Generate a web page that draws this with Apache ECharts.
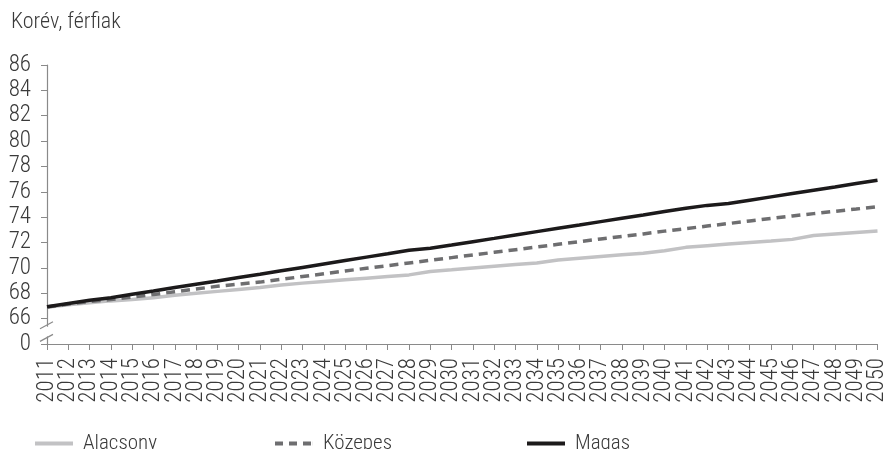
<!DOCTYPE html>
<html>
<head>
<meta charset="utf-8">
<script src="https://cdn.jsdelivr.net/npm/echarts@6/dist/echarts.min.js"></script>
<style>
html,body{margin:0;padding:0;background:#fff;}
#c{width:889px;height:449px;}
</style>
</head>
<body>
<div id="c"></div>
<script>
const years = [];
for (let y = 2011; y <= 2050; y++) years.push(String(y));

const yTicks = [64, 66, 68, 70, 72, 74, 76, 78, 80, 82, 84, 86];
const yTickLabels = ['0', '66', '68', '70', '72', '74', '76', '78', '80', '82', '84', '86'];

const alacsony = [66.9, 67.1, 67.25, 67.4, 67.5, 67.65, 67.85, 68.0, 68.15, 68.3,
  68.45, 68.65, 68.8, 68.93, 69.06, 69.19, 69.32, 69.45, 69.72, 69.85,
  70.0, 70.13, 70.26, 70.39, 70.62, 70.76, 70.9, 71.03, 71.16, 71.35,
  71.62, 71.75, 71.88, 72.0, 72.12, 72.25, 72.55, 72.67, 72.79, 72.91];

const kozepes = [66.92, 67.15, 67.35, 67.5, 67.7, 67.9, 68.12, 68.34, 68.55, 68.72,
  68.88, 69.1, 69.32, 69.54, 69.76, 69.97, 70.18, 70.39, 70.6, 70.81,
  71.02, 71.23, 71.44, 71.65, 71.86, 72.07, 72.28, 72.48, 72.68, 72.9,
  73.1, 73.3, 73.5, 73.7, 73.9, 74.1, 74.28, 74.46, 74.64, 74.83];

const magas = [66.94, 67.2, 67.45, 67.65, 67.92, 68.18, 68.45, 68.71, 68.97, 69.24,
  69.5, 69.77, 70.04, 70.31, 70.58, 70.85, 71.12, 71.4, 71.55, 71.8,
  72.07, 72.33, 72.6, 72.86, 73.12, 73.38, 73.65, 73.91, 74.17, 74.44,
  74.7, 74.93, 75.08, 75.34, 75.6, 75.86, 76.12, 76.38, 76.65, 76.91];

const FONT = "'Roboto Condensed', 'Liberation Sans Narrow', 'DejaVu Sans Condensed', 'Roboto', sans-serif";
const TXT = '#3a3a3a';
const AX = '#8a8a8a';

const chart = echarts.init(document.getElementById('c'), null, {renderer: 'canvas'});

const SOLID_ICON = 'path://M0,0L38,0L38,4L0,4Z';
const DASH_ICON = 'path://M0,0L8,0L8,4L0,4Z M14,0L22,0L22,4L14,4Z M28,0L36,0L36,4L28,4Z M37.9,0L38,0L38,4L37.9,4Z';

function legendFor(name, left, icon) {
  return {
    data: [{name: name, icon: icon}], left: left, top: 428,
    itemWidth: 38, itemHeight: 4, itemGap: 0,
    textStyle: {fontFamily: FONT, fontSize: 21, fontWeight: 300, color: TXT, padding: [0, 0, 0, 5]}
  };
}

chart.setOption({
  animation: false,
  title: {
    text: 'Korév, férfiak', left: 6, top: 6,
    textStyle: {fontFamily: FONT, fontSize: 22, fontWeight: 300, color: TXT}
  },
  legend: [legendFor('Alacsony', 30, SOLID_ICON), legendFor('Közepes', 270, DASH_ICON), legendFor('Magas', 522, SOLID_ICON)],
  grid: {left: 47, right: 11, top: 65, bottom: 105, containLabel: false},
  xAxis: {
    type: 'category', data: years, boundaryGap: false,
    axisLine: {lineStyle: {color: AX, width: 1.2}},
    axisTick: {show: true, length: 6, alignWithLabel: true, interval: 0, lineStyle: {color: AX}},
    axisLabel: {interval: 0, rotate: 90, margin: 14, fontFamily: FONT, fontSize: 23, fontWeight: 300, color: TXT}
  },
  yAxis: {
    type: 'value', min: 64, max: 86, interval: 2,
    splitLine: {show: false},
    axisLine: {show: true, lineStyle: {color: AX, width: 1.2}},
    axisTick: {show: true, length: 6, lineStyle: {color: AX}},
    axisLabel: {
      margin: 16, fontFamily: FONT, fontSize: 23, fontWeight: 300, color: TXT, padding: [0, 0, 12, 0],
      formatter: function (v) {
        const i = yTicks.indexOf(v);
        return i >= 0 ? yTickLabels[i] : '';
      }
    }
  },
  series: [
    {name: 'Alacsony', type: 'line', data: alacsony, symbol: 'none',
      lineStyle: {color: '#c2c2c4', width: 3.5}, itemStyle: {color: '#c2c2c4'}, z: 2},
    {name: 'Közepes', type: 'line', data: kozepes, symbol: 'none',
      lineStyle: {color: '#6e6e70', width: 3.5, type: [9, 6], cap: 'butt'}, itemStyle: {color: '#6e6e70'}, z: 3},
    {name: 'Magas', type: 'line', data: magas, symbol: 'none',
      lineStyle: {color: '#1c1a1b', width: 3.5}, itemStyle: {color: '#1c1a1b'}, z: 4}
  ]
});

// axis break marks between 0 and 66
const p66 = chart.convertToPixel({yAxisIndex: 0}, 66);
const p64 = chart.convertToPixel({yAxisIndex: 0}, 64);
const ax = chart.convertToPixel({xAxisIndex: 0}, years[0]);
const gTop = p66 + (p64 - p66) * 0.2;
const gBot = p64 - (p64 - p66) * 0.3;
chart.setOption({
  graphic: [
    {type: 'rect', shape: {x: ax - 3, y: gTop + 3, width: 6, height: gBot - gTop - 3}, style: {fill: '#fff'}, z: 100},
    {type: 'line', shape: {x1: ax - 7, y1: gTop + 5, x2: ax + 6, y2: gTop - 2}, style: {stroke: AX, lineWidth: 1.2}, z: 101},
    {type: 'line', shape: {x1: ax - 7, y1: gBot + 5, x2: ax + 6, y2: gBot - 2}, style: {stroke: AX, lineWidth: 1.2}, z: 101}
  ]
});
</script>
</body>
</html>
